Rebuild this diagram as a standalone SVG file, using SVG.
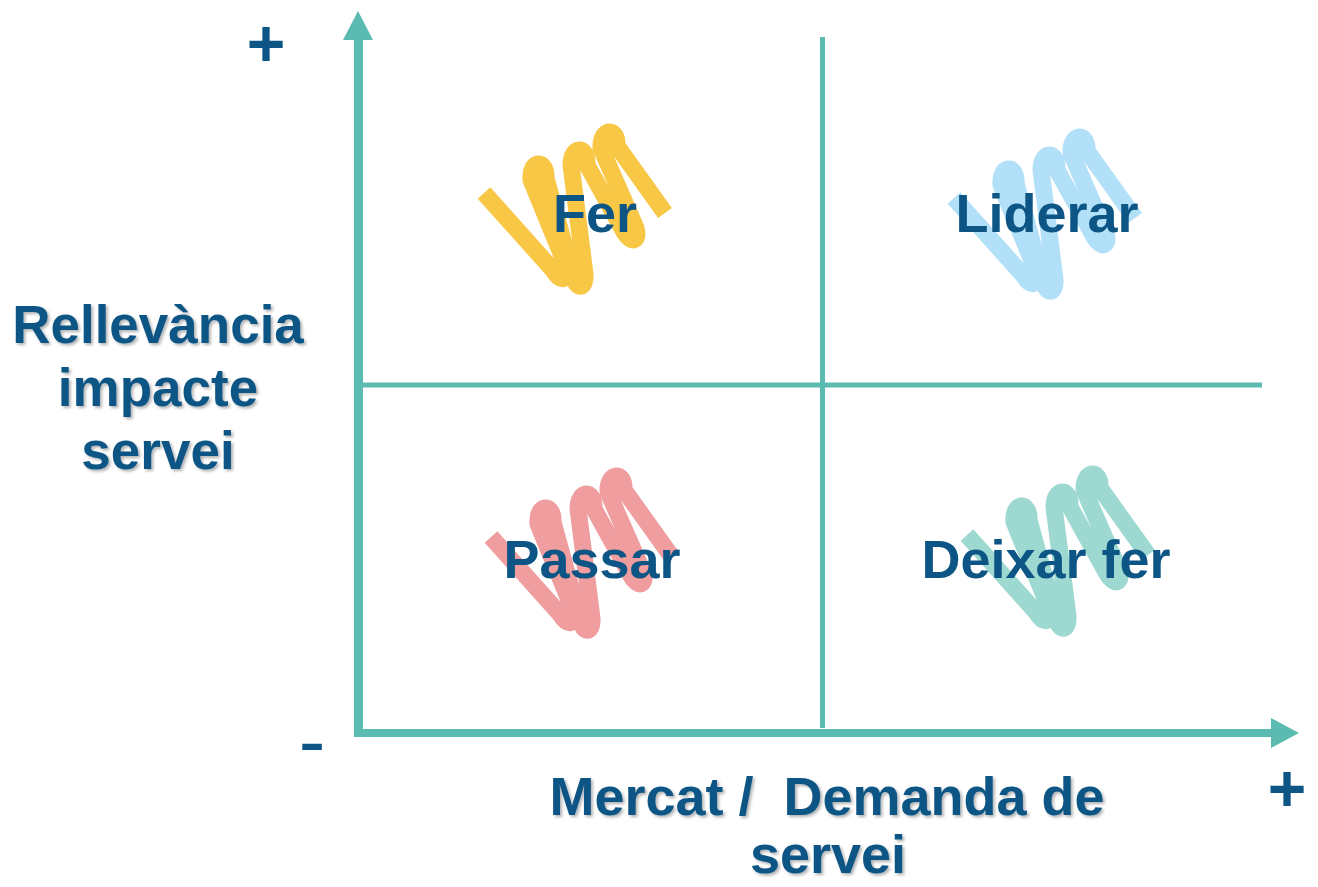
<svg xmlns="http://www.w3.org/2000/svg" xmlns:xlink="http://www.w3.org/1999/xlink" width="1318" height="887" viewBox="0 0 1318 887">
<style>
.lbl{font-family:"Liberation Sans",Arial,sans-serif;font-weight:bold;fill:#0C5585;text-anchor:middle;white-space:pre}
.ax{font-size:53px}
.axb{font-size:54px}
.q{font-size:54px}
.sgn{font-family:"Liberation Sans",Arial,sans-serif;fill:#0C5585;text-anchor:middle}
.axis{fill:#5BBBB0}
.grid{stroke:#5BBBB0;stroke-width:5;fill:none}
.coil{fill:none;stroke-width:17;stroke-linejoin:round;stroke-linecap:butt}
</style>
<defs>
<filter id="sh" x="-10%" y="-20%" width="130%" height="150%">
<feDropShadow dx="2" dy="2" stdDeviation="1.5" flood-color="#000" flood-opacity="0.3"/>
</filter>
<path id="coil" d="M484,193 L553,270 C560,282 568,282 567,268 L531,180 C529,160 547,158 546,178 L573,276 C576,290 586,290 585,274 L571,165 C571,145 588,145 587,165 L624,232 C631,244 640,242 636,228 L601,148 C600,128 618,126 617,146 L665,213"/>
</defs>
<rect width="1318" height="887" fill="#fff"/>
<g id="connectors">
<line class="grid" x1="822.5" y1="37" x2="822.5" y2="728"/>
<line class="grid" x1="362" y1="385" x2="1262" y2="385"/>
<rect class="axis" x="354" y="40" width="9" height="697"/>
<polygon class="axis" points="343,40 373,40 358,11"/>
<rect class="axis" x="354" y="729" width="918" height="8"/>
<polygon class="axis" points="1271,718 1271,748 1299,733"/>
</g>
<g id="node-fer">
<use xlink:href="#coil" class="coil" stroke="#F8C746"/>
<text class="lbl q" x="595" y="232">Fer</text>
</g>
<g id="node-liderar">
<use xlink:href="#coil" class="coil" stroke="#B3E0F9" transform="translate(470,5)"/>
<text class="lbl q" x="1047" y="232">Liderar</text>
</g>
<g id="node-passar">
<use xlink:href="#coil" class="coil" stroke="#EF9D9E" transform="translate(7,344)"/>
<text class="lbl q" x="592" y="578">Passar</text>
</g>
<g id="node-deixar">
<use xlink:href="#coil" class="coil" stroke="#9DD8D1" transform="translate(483,342)"/>
<text class="lbl q" x="1046" y="578">Deixar fer</text>
</g>
<g id="axis-y-label" filter="url(#sh)">
<text class="lbl ax" x="158" y="343">Rellevància</text>
<text class="lbl ax" x="158" y="406">impacte</text>
<text class="lbl ax" x="158" y="469">servei</text>
</g>
<g id="axis-x-label" filter="url(#sh)">
<text class="lbl axb" x="827" y="815">Mercat /  Demanda de</text>
<text class="lbl axb" x="828" y="873">servei</text>
</g>
<g id="signs">
<text class="sgn" x="266" y="66" font-size="66" font-weight="bold">+</text>
<text class="sgn" x="312" y="768" font-size="80">-</text>
<text class="sgn" x="1287" y="811" font-size="66" font-weight="bold">+</text>
</g>
</svg>
